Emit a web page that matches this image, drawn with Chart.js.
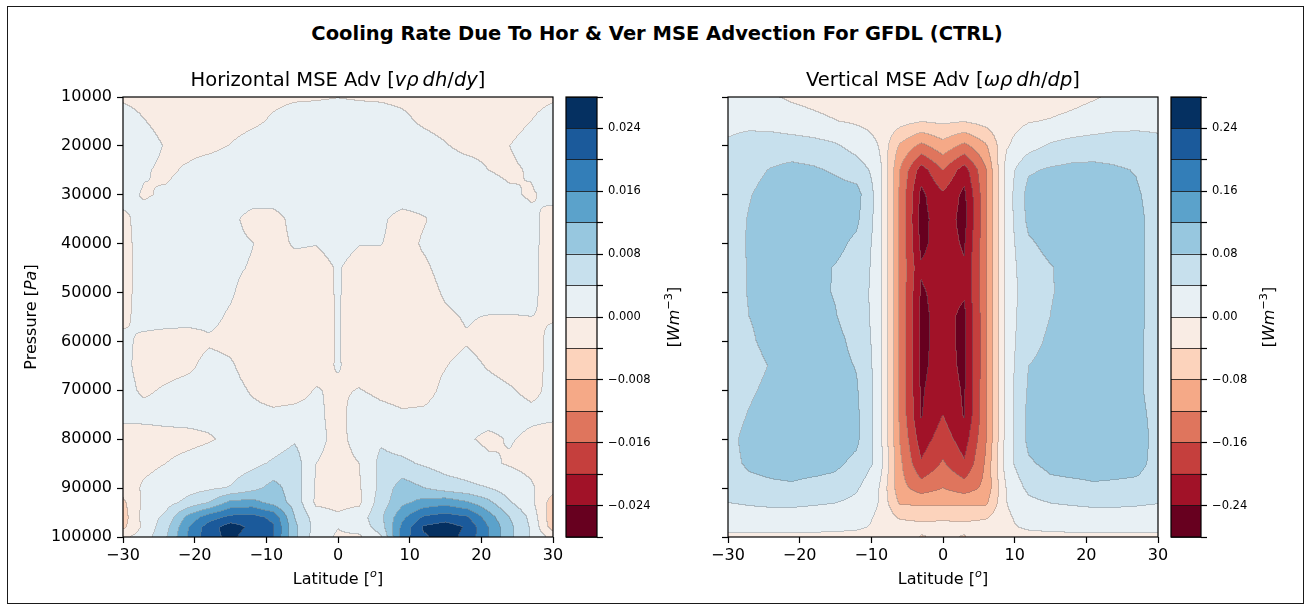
<!DOCTYPE html>
<html>
<head>
<meta charset="utf-8">
<title>Cooling Rate Due To Hor &amp; Ver MSE Advection For GFDL (CTRL)</title>
<script src="https://cdn.jsdelivr.net/npm/chart.js@4.4.1/dist/chart.umd.min.js"></script>
<style>
  html, body { margin: 0; padding: 0; background: #fff; }
  #fig { position: relative; width: 1307px; height: 610px; overflow: hidden; background: #fff; }
  #frame { position: absolute; left: 7px; top: 6px; width: 1297px; height: 598px; box-sizing: border-box; border: 1.5px solid #1a1a1a; }
  #suptitle { position: absolute; left: 0; top: 22px; width: 1314px; text-align: center; line-height: 24px;
              font: bold 19.5px "DejaVu Sans", sans-serif; color: #000; }
  canvas { position: absolute; top: 0; }
</style>
</head>
<body>
<div id="fig">
  <div id="frame"></div>
  <div id="suptitle">Cooling Rate Due To Hor &amp; Ver MSE Advection For GFDL (CTRL)</div>
  <canvas id="horField" width="570" height="610" style="left:0"></canvas>
  <canvas id="verField" width="575" height="610" style="left:600px"></canvas>
  <canvas id="horBar" width="170" height="610" style="left:540px"></canvas>
  <canvas id="verBar" width="157" height="610" style="left:1150px"></canvas>
</div>
<script>
// grid of the zonal-mean fields
const LATITUDES = [-30, -27, -24, -21, -18, -15, -12, -9, -6, -3, 0, 3, 6, 9, 12, 15, 18, 21, 24, 27, 30];
const PRESSURES = [10000, 15000, 20000, 25000, 30000, 35000, 40000, 45000, 50000, 55000, 60000,
                   65000, 70000, 75000, 80000, 85000, 90000, 93000, 96000, 98000, 100000];

// horizontal MSE advection, units of 1e-3 W m^-3 (rows = PRESSURES, cols = LATITUDES)
const HOR_UNIT = 1e-3;
const HOR_ADV = [
  [-0.5, -1, -1.2, -1.2, -1.2, -1, -0.8, -0.5, -0.3, -0.2, -0.05, -0.2, -0.3, -0.5, -0.8, -1, -1.2, -1.2, -1.2, -1, -0.5],
  [1.5, 0.1, -1, -1.2, -1.2, -1, -0.5, 0.3, 1, 1, 1, 1, 1, 0.5, -0.4, -1, -1.2, -1.2, -1, 0, 1.5],
  [2, 1.2, -0.2, -1, -0.8, 0.1, 1, 1.5, 1.5, 1.5, 1.5, 1.5, 1.5, 1.5, 1, 0.2, -0.8, -0.8, 0, 1.2, 2],
  [2, 0.3, -0.6, 0.4, 1.5, 1.8, 1.8, 1.8, 1.8, 1.8, 1.8, 1.8, 1.8, 1.8, 1.8, 1.5, 1.2, 0, -0.5, 0.3, 2],
  [1, -0.3, 0.4, 1.5, 1.5, 1.5, 1.5, 1.5, 1.5, 1.5, 1.5, 1.5, 1.5, 1.5, 1.5, 1.5, 1.5, 1.2, 0.4, -0.3, 0.8],
  [-0.6, 1, 1.5, 1.5, 1.2, 0.8, -1, -1, 0.8, 1.2, 1.2, 1.2, 0.5, -1, -0.2, 1, 1.5, 1.5, 1.2, 0.6, -1],
  [-0.8, 1, 1.5, 1.5, 1.2, 0.8, 0.1, -1, 0.3, 0.1, 1, 0.1, 0.1, -1, 0.3, 1, 1.5, 1.5, 1.2, 0.6, -1],
  [-0.8, 1, 1.5, 1.5, 1.2, 0.5, -0.2, -1, -1, -1, 0.2, -1, -1, -1, -0.4, 0.8, 1.5, 1.5, 1.2, 0.5, -1],
  [-0.8, 1, 1.5, 1.5, 1, 0.3, -1, -1.2, -1.2, -1, 0.2, -1, -1.2, -1.2, -1, 0.3, 1, 1.5, 1.2, 0.5, -1],
  [-0.5, 0.8, 1, 0.8, 0.6, -0.3, -1.2, -1.2, -1.2, -1, 0.15, -1, -1.2, -1.2, -1.2, -0.4, 0.2, -0.1, -0.1, 0, -0.2],
  [0.5, -0.5, -1, -1, -0.3, -0.6, -1.2, -1.2, -1.2, -1, 0.15, -1, -1.2, -1.2, -1.2, -0.8, -0.2, -1, -1, -0.8, 0.6],
  [0.6, -0.8, -1, -0.6, 0.8, 0.3, -1, -1.2, -1.2, -1, 0.2, -1, -1.2, -1.2, -0.8, -0.1, 0.8, -0.2, -0.8, -0.8, 0.6],
  [0.8, -0.4, 0.3, 1, 1.2, 0.8, -0.2, -1, -0.8, 0.15, -0.4, 0.1, -0.6, -1, -0.8, 0.5, 1.2, 0.8, 0.2, -0.5, 0.5],
  [0.6, 0.8, 1, 1, 1, 1, 0.6, 0.4, 0.6, 0.65, -1, 1.5, 0.8, 0.3, 0.4, 1, 1, 1, 0.8, 0.5, 0.45],
  [-1, -1.2, -1, -0.8, -0.3, 0.6, 1.2, 2, 3.5, 1, -1, 1.2, 3.5, 2, 1.5, 1, 0.3, -0.5, 0.2, -0.5, -1],
  [-1.2, -0.8, 0, 0.8, 1.5, 2, 3, 4.5, 6, 0, -1.2, 0, 5, 4.8, 3.5, 2.2, 1.5, 0.5, -0.3, -1, -1.5],
  [-2, 0.5, 1.5, 2.5, 3.2, 4.2, 6.5, 9.5, 6, -0.5, -1.5, -0.5, 5, 10, 8, 6, 5, 4, 2, 0.5, -2.5],
  [-5, 1, 2.5, 5, 8, 13, 13.5, 10.5, 6.5, -0.7, -1, -0.7, 6, 11, 13.5, 14.5, 12.5, 9, 4.3, 1, -6],
  [-6, 1.5, 5, 13, 18, 21, 21.5, 19, 8, 2, 0.5, 2, 7, 15, 20.5, 22, 20.5, 14, 8, 3, -7],
  [-5, 1, 6.5, 15.5, 22, 26, 23, 20.5, 9, 2.5, 0.1, 1.5, 6, 17, 24.5, 26, 23.5, 16, 9, 3.5, -6],
  [-1, 2, 7.5, 16, 22.5, 25, 22, 20, 9, 1.8, -0.5, -0.5, 3.5, 18, 23.5, 25.5, 23, 16, 9, 3.5, -1.5]
];

// vertical MSE advection, units of 1e-2 W m^-3
const VER_UNIT = 1e-2;
const VER_ADV = [
  [2, 1, 0.3, -0.5, -1, -1.5, -1.8, -2, -2.3, -2.8, -2.5, -2.8, -2.3, -2, -1.8, -1.5, -1, -0.3, 0.5, 1.5, 2],
  [3, 3, 2.5, 1.5, 0.8, 0.1, -0.5, -1, -2.5, -3.8, -3.2, -3.8, -2.5, -1.2, -0.2, 0.2, 0.8, 1.5, 2.5, 3, 3.2],
  [4.5, 5.5, 6, 6, 5.5, 4.5, 2.5, 0, -8.5, -13, -9.5, -13, -8.5, -0.3, 2.5, 4.5, 5.5, 6, 6, 5.5, 4.8],
  [5.5, 7, 8.2, 9, 8.5, 7.5, 6, 2.5, -12, -22, -16, -22, -12.5, 2, 7.5, 8.5, 9, 9, 8.5, 7.8, 5.5],
  [6, 7.8, 9.2, 9.8, 10, 9.8, 9.5, 2.5, -12.5, -25, -20.5, -25, -13, 2, 9.5, 9.8, 10, 9.8, 9.2, 8.5, 6.5],
  [6.5, 8.2, 9.5, 10, 10, 10, 8.8, 2.5, -12.5, -25.5, -21.5, -25.5, -13, 2, 9, 10, 10, 10, 9.5, 8.8, 6.8],
  [6.5, 8.3, 9.5, 10, 9.8, 9, 7.2, 2.5, -12.5, -25, -22, -24.5, -13, 2, 7.5, 9, 9.8, 10, 9.5, 8.8, 6.8],
  [6.5, 8.2, 9.2, 9.5, 9, 7.8, 6.5, 2.5, -12.5, -23.5, -22, -23.5, -13, 2, 6.5, 7.8, 9, 9.5, 9.2, 8.8, 6.8],
  [6.5, 8.2, 9, 9.2, 8.8, 7.8, 6, 2.5, -12.5, -24.5, -22.5, -23.5, -13, 2, 6, 7.8, 8.8, 9.2, 9, 8.8, 6.8],
  [6.2, 8, 9, 9.5, 9.2, 8.2, 6.2, 2.5, -12.5, -25, -22.5, -25, -13, 2, 6.5, 8, 9.2, 9.5, 9, 8.8, 6.8],
  [6, 7.5, 9, 9.5, 9.5, 9, 7, 2.5, -12.5, -25, -22.5, -25, -13, 2, 7, 8.5, 9.5, 9.5, 9, 8.8, 6.5],
  [5.5, 6.8, 8.2, 9, 9.5, 9.2, 7.8, 2.5, -12.5, -25, -22, -25, -13, 2, 8, 9, 9.5, 9.5, 9.2, 8.8, 6.5],
  [6, 7.5, 8.8, 9.5, 9.8, 9.5, 8.4, 2.5, -12.5, -24.5, -21.5, -24.5, -13, 2, 8.5, 9.5, 9.8, 9.5, 9.2, 8.8, 6.5],
  [6.5, 8.2, 9.5, 10, 10, 10, 8.8, 2.5, -12.5, -24.3, -20, -24.3, -13, 2, 9, 10, 10, 10, 9.5, 9, 7],
  [7, 9, 10, 10.5, 10.5, 10, 8.8, 2.5, -12, -22, -18, -22, -12.5, 2, 9, 10, 10.5, 10.5, 10, 9.2, 7.2],
  [7, 8.5, 9, 9.5, 9.5, 8.8, 7, 3, -11, -19.5, -15.5, -19.5, -11.5, 2.5, 7.5, 9, 9.5, 9.5, 9.2, 9, 7],
  [6, 7, 7.4, 7.5, 6.8, 6.5, 4.5, 0.5, -10.5, -14, -12, -14, -11, 0.5, 5, 6.8, 7, 7.5, 7.4, 7.2, 6.5],
  [4, 4.5, 4.8, 4.8, 4.5, 4.1, 3, 0, -8.5, -9, -9, -9, -9, 0, 3, 4.1, 4.5, 4.8, 4.8, 4.6, 4.2],
  [2, 2.2, 2.5, 2.5, 2.2, 2, 1.5, -0.5, -4.5, -4.8, -4.6, -4.8, -4.5, -0.5, 1.5, 2, 2.2, 2.5, 2.5, 2.3, 2],
  [0.8, 1, 1, 1, 1, 0.8, 0.5, -0.5, -2.5, -3.2, -3, -3.2, -2.5, -0.5, 0.5, 0.8, 1, 1, 1, 1, 0.8],
  [-0.5, -0.8, -0.8, -0.8, -0.8, -0.8, -1, -1.2, -2, -4.2, -3.5, -4.2, -2, -1.2, -1, -0.8, -0.8, -0.8, -0.8, -0.8, -0.5]
];

// contour levels and colorbar labels
const HOR_LEVELS = [-0.028, -0.024, -0.020, -0.016, -0.012, -0.008, -0.004, 0, 0.004, 0.008, 0.012, 0.016, 0.020, 0.024, 0.028];
const VER_LEVELS = [-0.28, -0.24, -0.20, -0.16, -0.12, -0.08, -0.04, 0, 0.04, 0.08, 0.12, 0.16, 0.20, 0.24, 0.28];
const HOR_CBAR_TICKS = [-0.024, -0.016, -0.008, 0, 0.008, 0.016, 0.024];
const VER_CBAR_TICKS = [-0.24, -0.16, -0.08, 0, 0.08, 0.16, 0.24];
const LEVEL_COLORS = ['#67001f', '#a11228', '#c53f3d', '#df755d', '#f5a987', '#fcd3bc', '#f9ece4',
                      '#e8f0f4', '#c7e0ed', '#97c7df', '#5ba2cb', '#337eb8', '#1b5a9b', '#053061'];
const X_TICKS = [-30, -20, -10, 0, 10, 20, 30];
const Y_TICKS = [10000, 20000, 30000, 40000, 50000, 60000, 70000, 80000, 90000, 100000];

const FONT = '"DejaVu Sans"';
const MINUS = '\u2212';

function fmtTick(v, digits) {
  const s = Math.abs(v).toFixed(digits);
  return (v < -1e-12 ? MINUS : '') + s;
}

function hexToRgb(h) {
  const n = parseInt(h.slice(1), 16);
  return [(n >> 16) & 255, (n >> 8) & 255, n & 255];
}

// text made of runs: [text, style] with style '', 'it', 'sup'
function drawRuns(ctx, runs, size, x, y, angle) {
  ctx.save();
  ctx.translate(x, y);
  if (angle) ctx.rotate(angle);
  const parts = runs.map(([t, s]) => {
    const sup = s.indexOf('sup') >= 0;
    const fs = sup ? size * 0.7 : size;
    const font = (s.indexOf('it') >= 0 ? 'italic ' : '') + fs + 'px ' + FONT;
    ctx.font = font;
    return { t, font, w: ctx.measureText(t).width, dy: sup ? -size * 0.36 : 0 };
  });
  let cx = -parts.reduce((a, p) => a + p.w, 0) / 2;
  ctx.textBaseline = 'middle';
  ctx.textAlign = 'left';
  ctx.fillStyle = '#000';
  parts.forEach(p => { ctx.font = p.font; ctx.fillText(p.t, cx, p.dy); cx += p.w; });
  ctx.restore();
}

function locate(axis, v) {
  let k = 0;
  while (k < axis.length - 2 && v > axis[k + 1]) k++;
  const f = (v - axis[k]) / (axis[k + 1] - axis[k]);
  return [k, Math.min(1, Math.max(0, f))];
}

// filled contours: bilinear field on the lat/p grid, binned into the levels
function contourLayer(field, unit, levels) {
  const rgb = LEVEL_COLORS.map(hexToRgb);
  return {
    id: 'contourLayer',
    beforeDatasetsDraw(chart) {
      const { ctx, chartArea: a, scales: { x, y } } = chart;
      const left = Math.round(a.left), top = Math.round(a.top);
      const w = Math.round(a.right) - left, h = Math.round(a.bottom) - top;
      const ci = [], cf = [], ri = [], rf = [];
      for (let i = 0; i < w; i++) {
        const [k, f] = locate(LATITUDES, x.getValueForPixel(left + i + 0.5));
        ci.push(k); cf.push(f);
      }
      for (let j = 0; j < h; j++) {
        const [k, f] = locate(PRESSURES, y.getValueForPixel(top + j + 0.5));
        ri.push(k); rf.push(f);
      }
      const band = new Uint8Array(w * h);
      for (let j = 0; j < h; j++) {
        const r0 = field[ri[j]], r1 = field[ri[j] + 1], fr = rf[j];
        for (let i = 0; i < w; i++) {
          const c = ci[i], fc = cf[i];
          const vt = r0[c] + (r0[c + 1] - r0[c]) * fc;
          const vb = r1[c] + (r1[c + 1] - r1[c]) * fc;
          const v = (vt + (vb - vt) * fr) * unit;
          let k = 0;
          while (k < levels.length - 2 && v >= levels[k + 1]) k++;
          band[j * w + i] = k;
        }
      }
      const img = ctx.createImageData(w, h);
      for (let j = 0; j < h; j++) {
        for (let i = 0; i < w; i++) {
          const n = j * w + i, k = band[n];
          let [r, g, b] = rgb[k];
          const edge = (i + 1 < w && band[n + 1] !== k) || (j + 1 < h && band[n + w] !== k);
          if (edge) { r = r * 0.62 + 120 * 0.38; g = g * 0.62 + 120 * 0.38; b = b * 0.62 + 120 * 0.38; }
          const o = n * 4;
          img.data[o] = r; img.data[o + 1] = g; img.data[o + 2] = b; img.data[o + 3] = 255;
        }
      }
      ctx.putImageData(img, left, top);
    }
  };
}

const frame = {
  id: 'frame',
  afterDraw(chart) {
    const { ctx, chartArea: a } = chart;
    ctx.save();
    ctx.strokeStyle = '#000';
    ctx.lineWidth = 1.2;
    ctx.strokeRect(a.left, a.top, a.right - a.left, a.bottom - a.top);
    ctx.restore();
  }
};

function panelText(spec) {
  return {
    id: 'panelText',
    afterDraw(chart) {
      const { ctx, chartArea: a } = chart;
      const cx = (a.left + a.right) / 2;
      drawRuns(ctx, spec.title, 19.5, cx, a.top - 16);
      drawRuns(ctx, spec.xlabel, 16, cx, a.bottom + 43);
      if (spec.ylabel) drawRuns(ctx, spec.ylabel, 16, spec.ylabelX, (a.top + a.bottom) / 2, -Math.PI / 2);
    }
  };
}

function cbarLabel(dx) {
  return {
    id: 'cbarLabel',
    afterDraw(chart) {
      const { ctx, chartArea: a } = chart;
      drawRuns(ctx, [['[', ''], ['Wm', 'it'], [MINUS + '3', 'sup'], [']', '']], 16,
               a.right + dx, (a.top + a.bottom) / 2, -Math.PI / 2);
    }
  };
}

const tickFont = { family: FONT, size: 16 };
const tickGrid = { drawOnChartArea: false, drawTicks: true, tickLength: 6, tickColor: '#000', tickWidth: 1.2 };

function fieldChart(id, field, unit, levels, o) {
  return new Chart(document.getElementById(id), {
    type: 'scatter',
    data: { datasets: [] },
    options: {
      responsive: false, animation: false, events: [], devicePixelRatio: 1,
      layout: { padding: { top: 97, right: 17, bottom: 0, left: 0 } },
      plugins: { legend: { display: false }, tooltip: { enabled: false } },
      scales: {
        x: {
          type: 'linear', min: -30, max: 30,
          afterBuildTicks: s => { s.ticks = X_TICKS.map(v => ({ value: v })); },
          afterFit: s => { s.height = 73; },
          border: { display: false }, grid: tickGrid,
          ticks: { font: tickFont, color: '#000', padding: 3, maxRotation: 0, autoSkip: false,
                   callback: v => fmtTick(v, 0) }
        },
        y: {
          type: 'linear', reverse: true, min: 10000, max: 100000,
          afterBuildTicks: s => { s.ticks = Y_TICKS.map(v => ({ value: v })); },
          afterFit: s => { s.width = o.yWidth; },
          border: { display: false }, grid: tickGrid,
          ticks: { font: tickFont, color: '#000', padding: 5, autoSkip: false,
                   callback: v => (o.yLabels ? String(v) : '') }
        }
      }
    },
    plugins: [contourLayer(field, unit, levels), frame, panelText(o.text)]
  });
}

function colorbarChart(id, levels, labelTicks, digits, padLeft, axisWidth, labelDx) {
  return new Chart(document.getElementById(id), {
    type: 'bar',
    data: {
      labels: [''],
      datasets: LEVEL_COLORS.map((c, k) => ({
        data: [[levels[k], levels[k + 1]]], backgroundColor: c, borderWidth: 0,
        barPercentage: 1, categoryPercentage: 1
      }))
    },
    options: {
      responsive: false, animation: false, events: [], devicePixelRatio: 1,
      layout: { padding: { top: 97, bottom: 73, left: padLeft, right: 0 } },
      plugins: { legend: { display: false }, tooltip: { enabled: false } },
      scales: {
        x: { display: false, stacked: true },
        y: {
          position: 'right', min: levels[0], max: levels[levels.length - 1],
          afterBuildTicks: s => { s.ticks = levels.map(v => ({ value: v })); },
          afterFit: s => { s.width = axisWidth; },
          border: { display: false },
          grid: { drawOnChartArea: true, color: 'rgba(20,20,20,0.8)', lineWidth: 1, z: 1,
                  drawTicks: true, tickLength: 6, tickColor: '#000', tickWidth: 1.2 },
          ticks: { autoSkip: false, padding: 5, color: '#000', font: { family: FONT, size: 11.5 },
                   callback: v => (labelTicks.some(t => Math.abs(t - v) < 1e-9) ? fmtTick(v, digits) : '') }
        }
      }
    },
    plugins: [frame, cbarLabel(labelDx)]
  });
}

fieldChart('horField', HOR_ADV, HOR_UNIT, HOR_LEVELS, {
  yWidth: 123, yLabels: true,
  text: {
    title: [['Horizontal MSE Adv [', ''], ['v\u03c1', 'it'], ['\u2009', ''], ['dh', 'it'], ['/', ''], ['dy', 'it'], [']', '']],
    xlabel: [['Latitude [', ''], ['o', 'itsup'], [']', '']],
    ylabel: [['Pressure [', ''], ['Pa', 'it'], [']', '']],
    ylabelX: 32
  }
});

fieldChart('verField', VER_ADV, VER_UNIT, VER_LEVELS, {
  yWidth: 128, yLabels: false,
  text: {
    title: [['Vertical MSE Adv [', ''], ['\u03c9\u03c1', 'it'], ['\u2009', ''], ['dh', 'it'], ['/', ''], ['dp', 'it'], [']', '']],
    xlabel: [['Latitude [', ''], ['o', 'itsup'], [']', '']]
  }
});

colorbarChart('horBar', HOR_LEVELS, HOR_CBAR_TICKS, 3, 26, 113, 78);
colorbarChart('verBar', VER_LEVELS, VER_CBAR_TICKS, 2, 21, 106, 69);
</script>
</body>
</html>
